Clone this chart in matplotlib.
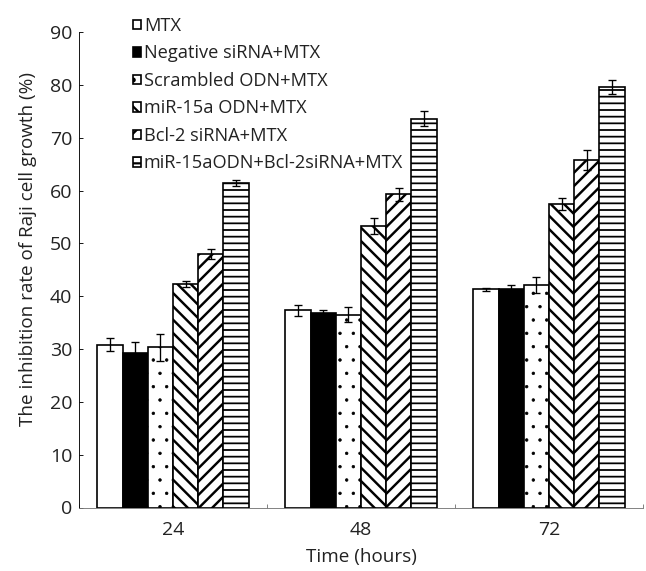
import numpy as np
import matplotlib.pyplot as plt

plt.rcParams['font.family'] = ['Open Sans', 'DejaVu Sans']
plt.rcParams['hatch.color'] = 'black'
plt.rcParams['hatch.linewidth'] = 2.0

# data
times = ['24', '48', '72']
groups = ['MTX', 'Negative siRNA+MTX', 'Scrambled ODN+MTX', 'miR-15a ODN+MTX',
          'Bcl-2 siRNA+MTX', 'miR-15aODN+Bcl-2siRNA+MTX']
mtx = [30.8, 37.3, 41.3]
mtx_err = [1.2, 1.1, 0.3]
neg = [29.2, 36.9, 41.4]
neg_err = [2.2, 0.5, 0.7]
scr = [30.3, 36.5, 42.1]
scr_err = [2.5, 1.4, 1.5]
mir = [42.3, 53.3, 57.4]
mir_err = [0.5, 1.45, 1.1]
bcl = [48.0, 59.3, 65.8]
bcl_err = [0.95, 1.2, 1.9]
combo = [61.4, 73.6, 79.6]
combo_err = [0.6, 1.4, 1.3]

values = [mtx, neg, scr, mir, bcl, combo]
errors = [mtx_err, neg_err, scr_err, mir_err, bcl_err, combo_err]
fills = ['white', 'black', 'white', 'white', 'white', 'white']
hatches = ['', '', '.', '\\\\', '//', '--']
hatch_lw = [1.0, 1.0, 0.6, 2.2, 2.2, 1.6]

FS = 17
TICK_FS = 17.5
dpi = 80
fig = plt.figure(figsize=(646 / dpi, 571 / dpi), dpi=dpi)
ax = fig.add_axes([79 / 646, 1 - 507.5 / 571, 564 / 646, 475.5 / 571])

x = np.arange(len(times))
w = 0.134
for i, (vals, errs) in enumerate(zip(values, errors)):
    pos = x + (i - 2.5) * w
    bars = ax.bar(pos, vals, width=w, color=fills[i], edgecolor='black', linewidth=1.5,
                  hatch=hatches[i], label=groups[i], zorder=2)
    for b in bars:
        if hasattr(b, 'set_hatch_linewidth'):
            b.set_hatch_linewidth(hatch_lw[i])
    ax.errorbar(pos, vals, yerr=errs, fmt='none', ecolor='black', elinewidth=1.2,
                capsize=4, capthick=1.2, zorder=3)

ax.set_xlim(-0.5, 2.5)
ax.set_ylim(0, 90)
ax.set_yticks(np.arange(0, 91, 10))
ax.set_xticks([-0.5, 0.5, 1.5, 2.5])
ax.set_xticklabels([])
ax.set_xticks(x, minor=True)
ax.set_xticklabels(times, minor=True)
ax.tick_params(axis='x', which='major', direction='in', length=4, color='#777777')
ax.tick_params(axis='x', which='minor', length=0, pad=12, labelsize=TICK_FS, labelcolor='#222222')
ax.tick_params(axis='y', direction='in', length=4, pad=6, labelsize=TICK_FS, labelcolor='#222222')

for s in ['top', 'right']:
    ax.spines[s].set_visible(False)
ax.spines['bottom'].set_color('#777777')
ax.spines['left'].set_color('black')

ax.set_xlabel('Time (hours)', fontsize=FS, color='#222222', labelpad=8)
ax.set_ylabel('The inhibition rate of Raji cell growth (%)', fontsize=FS, color='#222222')
ax.yaxis.set_label_coords(-0.0745, 0.544)

leg = fig.legend(loc='upper left', bbox_to_anchor=(133 / 646, 1 - 17 / 571),
                 frameon=False, fontsize=16.4, handlelength=0.45, handleheight=0.45,
                 handletextpad=0.15, labelspacing=0.52, borderpad=0, borderaxespad=0)
for t in leg.get_texts():
    t.set_color('#222222')

fig.savefig('out.png', dpi=dpi)
